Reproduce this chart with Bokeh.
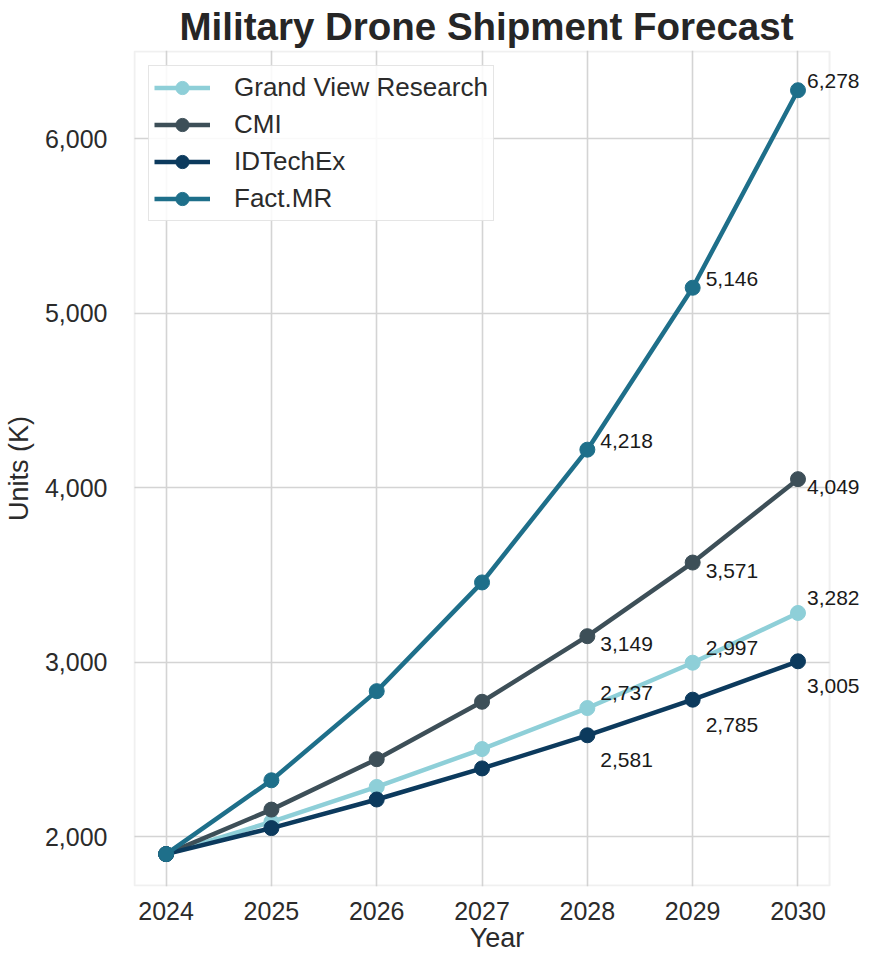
from bokeh.plotting import figure
from bokeh.models import (ColumnDataSource, Label, Legend, LegendItem, BoxAnnotation,
                          NumeralTickFormatter, FixedTicker, Range1d)
from bokeh.embed import file_html
from bokeh.resources import INLINE

# ---- data ----
years = [2024, 2025, 2026, 2027, 2028, 2029, 2030]
series_names = ["Grand View Research", "CMI", "IDTechEx", "Fact.MR"]
grand_view = [1900, 2085, 2285, 2502, 2737, 2997, 3282]
cmi = [1900, 2155, 2444, 2773, 3149, 3571, 4049]
idtechex = [1900, 2049, 2213, 2391, 2581, 2785, 3005]
fact_mr = [1900, 2323, 2834, 3457, 4218, 5146, 6278]
y_ticks = [2000, 3000, 4000, 5000, 6000]
y_limits = [1720, 6500]
label_years_from = 2028

colors = ["#8ecfd8", "#3d4f58", "#0c3a5d", "#1e6f8a"]
label_offsets = [15, -8, -25, 9]   # vertical offset (px, up positive) of value labels

FONT = "Liberation Sans"
TXT = "#2b2b2b"

# ---- layout constants (pixels) ----
W, H = 860, 955
LEFT = 131
BOX_W = 697          # visible plot box width
FRAME_W = W - LEFT   # real frame reaches the right edge so value labels are not cut
FRAME_H = 836

all_series = [grand_view, cmi, idtechex, fact_mr]
xpad = (years[-1] - years[0]) * 0.05
x_lo, x_hi = years[0] - xpad, years[-1] + xpad
y_lo, y_hi = y_limits
ex = (x_hi - x_lo) / BOX_W * 1.0
ey = (y_hi - y_lo) / FRAME_H * 1.0
x_end = x_lo - ex + (x_hi - x_lo) * FRAME_W / BOX_W

p = figure(width=W, height=H, output_backend="svg", toolbar_location=None,
           x_range=Range1d(x_lo - ex, x_end),
           y_range=Range1d(y_lo - ey, y_hi + ey),
           min_border_left=LEFT, min_border_right=0, min_border_top=0,
           min_border_bottom=0, background_fill_color="white",
           border_fill_color="white")

p.title.text = "Military Drone Shipment Forecast"
p.title.align = "left"
p.title.text_font = FONT
p.title.text_font_size = "38.5px"
p.title.text_font_style = "bold"
p.title.text_color = "#262626"
p.title.standoff = 5
p.title.offset = 46

p.outline_line_color = None
p.add_layout(BoxAnnotation(left=x_lo, right=x_hi, bottom=y_lo, top=y_hi,
                           fill_alpha=0, line_color="#cccccc", line_width=2,
                           level="underlay"))

for ax in (p.xaxis[0], p.yaxis[0]):
    ax.axis_line_color = None
    ax.major_tick_line_color = None
    ax.minor_tick_line_color = None
    ax.major_label_text_font = FONT
    ax.major_label_text_font_size = "25px"
    ax.major_label_text_color = TXT
    ax.axis_label_text_font = FONT
    ax.axis_label_text_font_size = "27px"
    ax.axis_label_text_font_style = "normal"
    ax.axis_label_text_color = TXT

p.xaxis.ticker = FixedTicker(ticks=years)
p.yaxis.ticker = FixedTicker(ticks=y_ticks)
p.yaxis.formatter = NumeralTickFormatter(format="0,0")
p.xaxis.axis_label = "Year"
p.yaxis.axis_label = "Units (K)"
p.yaxis.major_label_standoff = 20
p.xaxis.major_label_standoff = 9
p.yaxis.axis_label_standoff = 8
p.xaxis.axis_label_standoff = 0

for g in (p.xgrid, p.ygrid):
    g.grid_line_color = "#d4d4d4"
    g.grid_line_width = 1.6

try:
    p.ygrid.cross_bounds = (x_lo, x_hi)
except Exception:
    p.ygrid.visible = False
    p.segment(x0=[x_lo] * len(y_ticks), x1=[x_hi] * len(y_ticks), y0=y_ticks, y1=y_ticks,
              line_color="#d4d4d4", line_width=1.6, level="underlay")

items = []
for name, vals, col, dy in zip(series_names, all_series, colors, label_offsets):
    src = ColumnDataSource(dict(x=years, y=vals))
    rl = p.line("x", "y", source=src, line_color=col, line_width=4.5)
    rs = p.scatter("x", "y", source=src, size=15, fill_color=col, line_color=col)
    items.append(LegendItem(label=name, renderers=[rl, rs]))
    for x, v in zip(years, vals):
        if x >= label_years_from:
            p.add_layout(Label(x=x, y=v, text=f"{v:,}",
                               x_offset=9 if x == years[-1] else 13, y_offset=dy,
                               text_baseline="middle", text_align="left",
                               text_font=FONT, text_font_size="21px",
                               text_color="#1a1a1a"))

legend = Legend(items=items, location="top_left", margin=15, padding=5,
                glyph_width=56, glyph_height=33, label_height=33, spacing=4,
                label_standoff=24, label_text_font=FONT, label_text_font_size="26px",
                label_text_color=TXT, border_line_color="#cccccc", border_line_width=1.5,
                background_fill_alpha=0.85)
p.add_layout(legend)

open("out.html", "w").write(file_html(p, INLINE))
